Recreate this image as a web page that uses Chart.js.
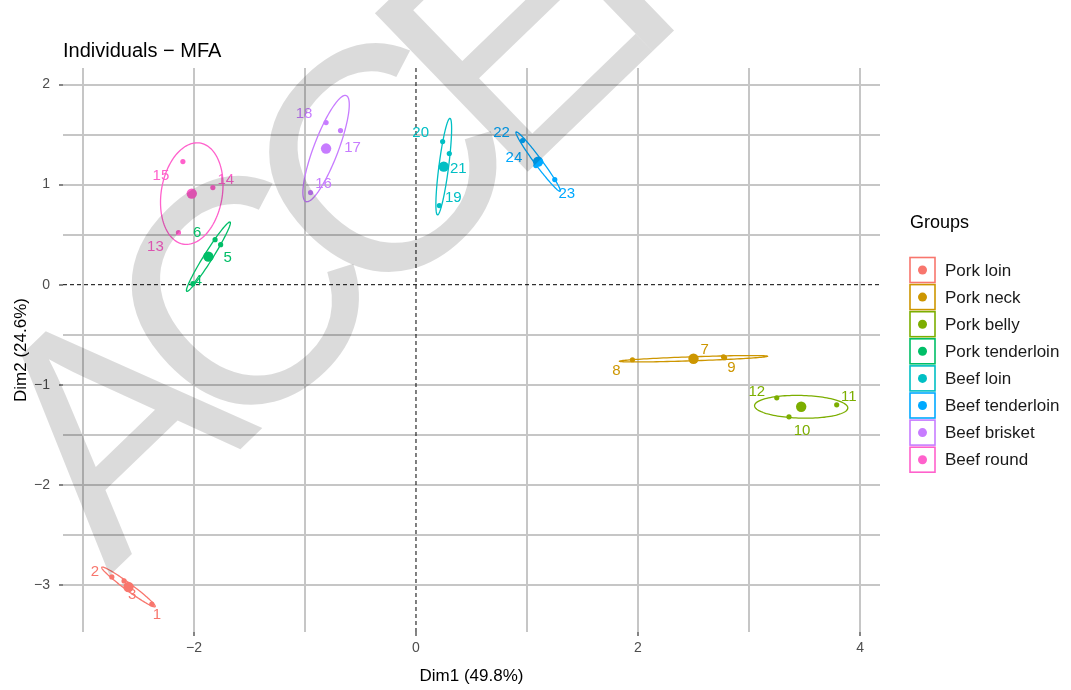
<!DOCTYPE html>
<html>
<head>
<meta charset="utf-8">
<title>Individuals - MFA</title>
<script src="https://cdn.jsdelivr.net/npm/chart.js@4.4.1/dist/chart.umd.min.js"></script>
<style>
  html, body { margin: 0; padding: 0; background: #fff; }
  #wrap { position: relative; width: 1071px; height: 690px; }
</style>
</head>
<body>
<div id="wrap"><canvas id="mfa" width="1071" height="690"></canvas></div>
<script>
// groups, in legend order
const groups = ['Pork loin', 'Pork neck', 'Pork belly', 'Pork tenderloin', 'Beef loin', 'Beef tenderloin', 'Beef brisket', 'Beef round'];
// sample number of every individual, per group
const sampleIds = [[1, 2, 3], [7, 8, 9], [10, 11, 12], [4, 5, 6], [19, 20, 21], [22, 23, 24], [16, 17, 18], [13, 14, 15]];
// individual coordinates
const dim1 = [[-2.38, -2.74, -2.63], [2.78, 1.95, 2.77], [3.36, 3.79, 3.25], [-2.01, -1.76, -1.81],
              [0.21, 0.24, 0.30], [0.96, 1.25, 1.08], [-0.95, -0.68, -0.81], [-2.14, -1.83, -2.10]];
const dim2 = [[-3.19, -2.92, -2.96], [-0.73, -0.75, -0.72], [-1.32, -1.20, -1.13], [0.01, 0.40, 0.45],
              [0.79, 1.43, 1.31], [1.44, 1.05, 1.19], [0.92, 1.54, 1.62], [0.52, 0.97, 1.23]];
// group mean points
const meanDim1 = [-2.59, 2.50, 3.47, -1.87, 0.25, 1.10, -0.81, -2.02];
const meanDim2 = [-3.02, -0.74, -1.22, 0.28, 1.18, 1.23, 1.36, 0.91];
// ellipse half long axis (in Dim1 / Dim2 units) and short/long ratio
const ellipseAxis1 = [-0.24, 0.667, 0.42, 0.195, 0.056, -0.198, 0.18, 0.068];
const ellipseAxis2 = [0.197, 0.025, -0.012, 0.346, 0.482, 0.296, 0.53, 0.506];
const ellipseRatio = [0.11, 0.03, 0.27, 0.10, 0.09, 0.095, 0.20, 0.54];
// tick labels
const xTickLabels = [-2, 0, 2, 4];
const yTickLabels = [-3, -2, -1, 0, 1, 2];

// ggplot default hues
const groupColors = ['#F8766D', '#CD9600', '#7CAE00', '#00BE67', '#00BFC4', '#00A9FF', '#C77CFF', '#FF61CC'];
// where ggrepel put each number (pixels from the point)
const labelNudge = {
  1: [5, 11], 2: [-17, -5], 3: [8, 14], 4: [5, -3], 5: [7, 13], 6: [-18, -7],
  7: [-20, -8], 8: [-16, 11], 9: [8, 11], 10: [13, 14], 11: [12, -8], 12: [-20, -6],
  13: [-23, 14], 14: [13, -8], 15: [-22, 14], 16: [13, -9], 17: [12, 17], 18: [-22, -9],
  19: [14, -8], 20: [-22, -9], 21: [9, 15], 22: [-21, -8], 23: [12, 14], 24: [-22, -8]
};

const FONT = "'Liberation Sans', Arial, sans-serif";
Chart.defaults.font.family = FONT;

const minusSign = v => (v < 0 ? '\u2212' + Math.abs(v) : String(v));

// build the datasets - small dots for individuals, big dot for the group mean
const datasets = [];
groups.forEach((g, i) => {
  datasets.push({
    label: g,
    data: sampleIds[i].map((id, j) => ({ x: dim1[i][j], y: dim2[i][j], id: id })),
    backgroundColor: groupColors[i],
    borderWidth: 0,
    pointRadius: 2.6
  });
  datasets.push({
    label: g + ' mean',
    data: [{ x: meanDim1[i], y: meanDim2[i] }],
    backgroundColor: groupColors[i],
    borderWidth: 0,
    pointRadius: 5.2
  });
});

// dashed lines through the origin
const zeroLines = {
  id: 'zeroLines',
  beforeDatasetsDraw(chart) {
    const { ctx, chartArea: a, scales: { x, y } } = chart;
    ctx.save();
    ctx.strokeStyle = '#000';
    ctx.lineWidth = 1;
    ctx.setLineDash([4, 3]);
    const x0 = x.getPixelForValue(0), y0 = y.getPixelForValue(0);
    ctx.beginPath();
    ctx.moveTo(x0, a.top); ctx.lineTo(x0, a.bottom);
    ctx.moveTo(a.left, y0); ctx.lineTo(a.right, y0);
    ctx.stroke();
    ctx.restore();
  }
};

// confidence ellipses, traced through the scales
const ellipses = {
  id: 'ellipses',
  beforeDatasetsDraw(chart) {
    const { ctx, scales: { x, y } } = chart;
    ctx.save();
    ctx.lineWidth = 1.3;
    groups.forEach((g, i) => {
      const ux = ellipseAxis1[i], uy = ellipseAxis2[i];
      const vx = -uy * ellipseRatio[i], vy = ux * ellipseRatio[i];
      ctx.strokeStyle = groupColors[i];
      ctx.beginPath();
      for (let s = 0; s <= 120; s++) {
        const t = (s / 120) * Math.PI * 2;
        const px = x.getPixelForValue(meanDim1[i] + ux * Math.cos(t) + vx * Math.sin(t));
        const py = y.getPixelForValue(meanDim2[i] + uy * Math.cos(t) + vy * Math.sin(t));
        if (s === 0) ctx.moveTo(px, py); else ctx.lineTo(px, py);
      }
      ctx.closePath();
      ctx.stroke();
    });
    ctx.restore();
  }
};

// sample numbers next to the points
const pointLabels = {
  id: 'pointLabels',
  afterDatasetsDraw(chart) {
    const { ctx } = chart;
    ctx.save();
    ctx.font = '15px ' + FONT;
    ctx.textAlign = 'center';
    ctx.textBaseline = 'middle';
    chart.data.datasets.forEach((ds, di) => {
      const meta = chart.getDatasetMeta(di);
      ds.data.forEach((d, k) => {
        if (d.id === undefined) return;
        const el = meta.data[k];
        const n = labelNudge[d.id] || [0, 0];
        ctx.fillStyle = ds.backgroundColor;
        ctx.fillText(String(d.id), el.x + n[0], el.y + n[1]);
      });
    });
    ctx.restore();
  }
};

// plot title and the "Groups" legend
const titleAndLegend = {
  id: 'titleAndLegend',
  afterDraw(chart) {
    const { ctx } = chart;
    ctx.save();
    ctx.fillStyle = '#000';
    ctx.textBaseline = 'middle';
    ctx.textAlign = 'left';
    ctx.font = '20px ' + FONT;
    ctx.fillText('Individuals \u2212 MFA', 63, 51);

    ctx.font = '18px ' + FONT;
    ctx.fillText('Groups', 910, 223);
    groups.forEach((g, i) => {
      const cy = 270 + i * 27.1;
      ctx.strokeStyle = groupColors[i];
      ctx.lineWidth = 1.6;
      ctx.fillStyle = '#fff';
      ctx.fillRect(910, cy - 12.5, 25, 25);
      ctx.strokeRect(910, cy - 12.5, 25, 25);
      ctx.fillStyle = groupColors[i];
      ctx.beginPath();
      ctx.arc(922.5, cy, 4.5, 0, Math.PI * 2);
      ctx.fill();
      ctx.fillStyle = '#1a1a1a';
      ctx.font = '17px ' + FONT;
      ctx.fillText(g, 945, cy + 1);
    });
    ctx.restore();
  }
};

// gray diagonal stamp on top of the figure
const stamp = {
  id: 'stamp',
  afterDraw(chart) {
    const { ctx } = chart;
    const size = 320, spacing = -40;
    ctx.save();
    ctx.font = size + 'px ' + FONT;
    const wA = ctx.measureText('A').width, wC = ctx.measureText('C').width;
    // put the middle of the second C at (375, 160)
    const lead = wA + wC + 2 * spacing + wC / 2;
    ctx.letterSpacing = spacing + 'px';
    ctx.fillStyle = 'rgba(0,0,0,0.14)';
    ctx.textBaseline = 'alphabetic';
    ctx.textAlign = 'left';
    ctx.translate(375, 160);
    ctx.rotate(-44 * Math.PI / 180);
    ctx.fillText('ACCEPTED', -lead, size * 0.716 / 2);
    ctx.restore();
  }
};

new Chart(document.getElementById('mfa'), {
  type: 'scatter',
  data: { datasets: datasets },
  options: {
    responsive: false,
    animation: false,
    devicePixelRatio: 1,
    layout: { padding: { top: 68, right: 191, left: 0, bottom: 0 } },
    plugins: { legend: { display: false }, tooltip: { enabled: false } },
    scales: {
      x: {
        type: 'linear',
        min: -3.18,
        max: 4.18,
        afterFit: s => { s.height = 58; },
        border: { display: false },
        grid: {
          color: c => (c.tick && c.tick.value === 0 ? 'rgba(0,0,0,0)' : '#c6c6c6'),
          lineWidth: 2,
          tickLength: 4,
          tickWidth: 1.2,
          tickColor: c => (c.tick && xTickLabels.includes(c.tick.value) ? '#333' : 'rgba(0,0,0,0)')
        },
        ticks: {
          stepSize: 1,
          includeBounds: false,
          autoSkip: false,
          maxRotation: 0,
          padding: 4,
          color: '#4d4d4d',
          font: { size: 14 },
          callback: v => (xTickLabels.includes(v) ? minusSign(v) : '')
        },
        title: { display: true, text: 'Dim1 (49.8%)', color: '#000', font: { size: 17 }, padding: { top: 0, bottom: 3 } }
      },
      y: {
        type: 'linear',
        min: -3.47,
        max: 2.165,
        afterFit: s => { s.width = 63; },
        border: { display: false },
        grid: {
          color: c => (c.tick && c.tick.value === 0 ? 'rgba(0,0,0,0)' : '#c6c6c6'),
          lineWidth: 2,
          tickLength: 4,
          tickWidth: 1.2,
          tickColor: c => (c.tick && yTickLabels.includes(c.tick.value) ? '#333' : 'rgba(0,0,0,0)')
        },
        ticks: {
          stepSize: 0.5,
          includeBounds: false,
          autoSkip: false,
          padding: 9,
          color: '#4d4d4d',
          font: { size: 14 },
          callback: v => (yTickLabels.includes(v) ? minusSign(v) : '')
        },
        title: { display: true, text: 'Dim2 (24.6%)', color: '#000', font: { size: 17 }, padding: { top: 11, bottom: 0 } }
      }
    }
  },
  plugins: [zeroLines, ellipses, pointLabels, titleAndLegend, stamp]
});
</script>
</body>
</html>
